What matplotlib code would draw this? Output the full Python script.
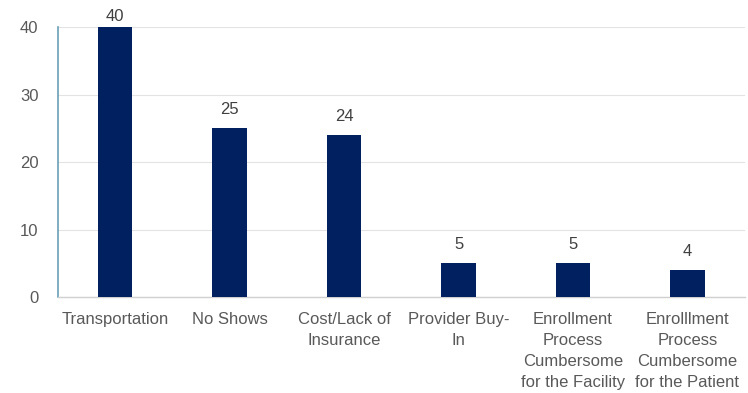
import matplotlib.pyplot as plt

# data
categories = ['Transportation', 'No Shows', 'Cost/Lack of\nInsurance', 'Provider Buy-\nIn',
              'Enrollment\nProcess\nCumbersome\nfor the Facility',
              'Enrolllment\nProcess\nCumbersome\nfor the Patient']
counts = [40, 25, 24, 5, 5, 4]
yticks = [0, 10, 20, 30, 40]

plt.rcParams['font.family'] = ['Liberation Sans', 'DejaVu Sans']

fig = plt.figure(figsize=(7.48, 3.93), dpi=100)
ax = fig.add_axes([0.0775, 0.244, 0.918, 0.687])

x = range(len(categories))
bars = ax.bar(x, counts, width=0.3, color='#002060', zorder=3)
for b, v in zip(bars, counts):
    # labels sit above the bar, but stay just inside the top of the plot area
    ax.text(b.get_x() + b.get_width() / 2, min(v + 1.7, 40.5), str(v), ha='center', va='bottom',
            fontsize=12, color='#404040')

ax.set_xlim(-0.5, len(categories) - 0.5)
ax.set_ylim(0, 40)
ax.set_yticks(yticks)
ax.set_xticks(list(x))
ax.set_xticklabels(categories, fontsize=12, color='#595959', linespacing=1.5)
ax.tick_params(axis='y', labelsize=12, labelcolor='#595959', length=0, pad=14)
ax.tick_params(axis='x', length=0, pad=11)
ax.yaxis.grid(True, color='#e3e3e3', linewidth=0.8, zorder=0)

for s in ['top', 'right']:
    ax.spines[s].set_visible(False)
ax.spines['left'].set_color('#6a9fb5')
ax.spines['left'].set_linewidth(1.2)
ax.spines['bottom'].set_color('#d0d0d0')
ax.spines['bottom'].set_linewidth(1.0)

fig.savefig('out.png', dpi=100)
